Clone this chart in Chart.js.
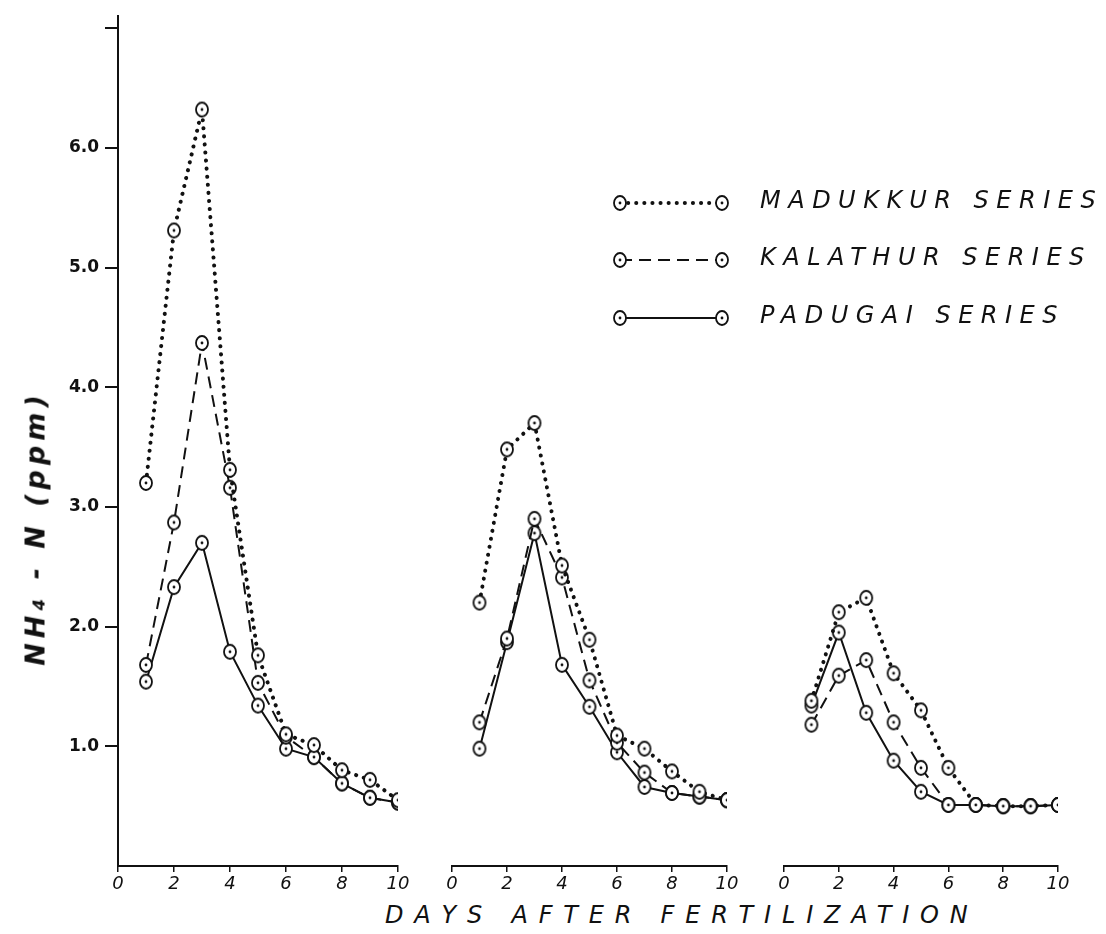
<!DOCTYPE html>
<html><head><meta charset="utf-8">
<script src="https://cdn.jsdelivr.net/npm/chart.js@4.4.0/dist/chart.umd.min.js"></script>
<style>
html,body{margin:0;padding:0;background:#fff;width:1106px;height:934px;overflow:hidden;position:relative;font-family:"DejaVu Sans",sans-serif;color:#111}
.pane{position:absolute;top:0;height:896px}
.pane canvas{display:block}
#ytitle{position:absolute;left:35px;top:528px;transform:translate(-50%,-50%) rotate(-90deg);white-space:nowrap;font:italic bold 27px "DejaVu Sans",sans-serif;letter-spacing:5px}
#xtitle{position:absolute;left:385px;top:901px;white-space:nowrap;font:italic 24px "DejaVu Sans",sans-serif;letter-spacing:10.8px}
.lg{position:absolute;left:600px;width:140px;height:30px}
.lgt{position:absolute;left:760px;white-space:nowrap;font:italic 24px "DejaVu Sans",sans-serif;letter-spacing:7.5px;line-height:30px}
</style></head><body>
<div class="pane" style="left:0;width:413px"><canvas id="c1"></canvas></div>
<div class="pane" style="left:432px;width:320px"><canvas id="c2"></canvas></div>
<div class="pane" style="left:764px;width:319px"><canvas id="c3"></canvas></div>
<div id="ytitle">NH₄ - N (ppm)</div>
<div id="xtitle">DAYS AFTER FERTILIZATION</div>
<div id="legend"></div>
<script>
// ---- data ----
const days = [1, 2, 3, 4, 5, 6, 7, 8, 9, 10];
const xTicks = [0, 2, 4, 6, 8, 10];
const yTicks = [0, 1, 2, 3, 4, 5, 6, 7];
const yTickLabels = ['', '1.0', '2.0', '3.0', '4.0', '5.0', '6.0', ''];
const seriesNames = ['MADUKKUR SERIES', 'KALATHUR SERIES', 'PADUGAI SERIES'];

// Panel 1
const madukkur1 = [3.20, 5.31, 6.32, 3.31, 1.76, 1.10, 1.01, 0.80, 0.72, 0.55];
const kalathur1 = [1.68, 2.87, 4.37, 3.16, 1.53, 1.08, 0.91, 0.69, 0.57, 0.53];
const padugai1  = [1.54, 2.33, 2.70, 1.79, 1.34, 0.98, 0.91, 0.69, 0.57, 0.53];
// Panel 2
const madukkur2 = [2.20, 3.48, 3.70, 2.51, 1.89, 1.09, 0.98, 0.79, 0.62, 0.55];
const kalathur2 = [1.20, 1.90, 2.90, 2.41, 1.55, 1.03, 0.78, 0.61, 0.58, 0.55];
const padugai2  = [0.98, 1.87, 2.78, 1.68, 1.33, 0.95, 0.66, 0.61, 0.58, 0.55];
// Panel 3
const madukkur3 = [1.38, 2.12, 2.24, 1.61, 1.30, 0.82, 0.51, 0.50, 0.50, 0.51];
const kalathur3 = [1.18, 1.59, 1.72, 1.20, 0.82, 0.51, 0.51, 0.50, 0.50, 0.51];
const padugai3  = [1.34, 1.95, 1.28, 0.88, 0.62, 0.51, 0.51, 0.50, 0.50, 0.51];

// ---- styling ----
const INK = '#111';
function marker() {
  const c = document.createElement('canvas');
  c.width = 18; c.height = 20;
  const g = c.getContext('2d');
  g.fillStyle = '#fff'; g.strokeStyle = INK; g.lineWidth = 1.8;
  g.beginPath(); g.ellipse(9, 10, 6, 7, 0, 0, Math.PI * 2); g.fill(); g.stroke();
  g.fillStyle = INK; g.beginPath(); g.arc(9, 10, 1.4, 0, Math.PI * 2); g.fill();
  return c;
}
const MK = marker();
const styles = [
  {borderDash: [0.1, 8], borderWidth: 4, borderCapStyle: 'round'},
  {borderDash: [12, 7], borderWidth: 2, borderCapStyle: 'butt'},
  {borderDash: [], borderWidth: 2, borderCapStyle: 'butt'}
];
function ds(vals, i) {
  return Object.assign({
    label: seriesNames[i],
    data: days.map((d, k) => ({x: d, y: vals[k]})),
    borderColor: INK, backgroundColor: INK,
    pointStyle: MK, pointRadius: 8, tension: 0
  }, styles[i]);
}

const xFont = {family: '"DejaVu Sans", sans-serif', size: 18, style: 'italic'};
const yFont = {family: '"DejaVu Sans", sans-serif', size: 17, weight: 'bold'};

function makeChart(id, sets, showY, pad) {
  return new Chart(document.getElementById(id), {
    type: 'line',
    data: {datasets: sets},
    options: {
      responsive: true, maintainAspectRatio: false, animation: false,
      layout: {padding: pad},
      plugins: {legend: {display: false}, tooltip: {enabled: false}},
      scales: {
        x: {
          type: 'linear', min: 0, max: 10,
          afterBuildTicks: s => { s.ticks = xTicks.map(v => ({value: v})); },
          afterFit: s => { s.height = 30; },
          ticks: {color: INK, font: xFont, padding: 2, maxRotation: 0, autoSkip: false,
                  callback: v => String(v)},
          grid: {display: true, drawOnChartArea: false, drawTicks: true, tickLength: 6, color: INK, lineWidth: 1.5},
          border: {display: true, color: INK, width: 2}
        },
        y: {
          type: 'linear', min: 0, max: 7.1, display: showY,
          afterBuildTicks: s => { s.ticks = yTicks.map(v => ({value: v})); },
          afterFit: s => { if (showY) s.width = 118; },
          ticks: {color: INK, font: yFont, padding: 6, autoSkip: false,
                  callback: (v) => yTickLabels[yTicks.indexOf(v)] ?? ''},
          grid: {display: true, drawOnChartArea: false, drawTicks: true, tickLength: 13,
                 color: c => (c.tick && c.tick.value === 0) ? 'rgba(0,0,0,0)' : INK, lineWidth: 2},
          border: {display: true, color: INK, width: 2}
        }
      }
    }
  });
}

makeChart('c1', [ds(madukkur1, 0), ds(kalathur1, 1), ds(padugai1, 2)], true, {top: 16, left: 0, right: 15, bottom: 0});
makeChart('c2', [ds(madukkur2, 0), ds(kalathur2, 1), ds(padugai2, 2)], false, {top: 16, left: 20, right: 25, bottom: 0});
makeChart('c3', [ds(madukkur3, 0), ds(kalathur3, 1), ds(padugai3, 2)], false, {top: 16, left: 20, right: 25, bottom: 0});

// ---- legend ----
const legend = document.getElementById('legend');
const rowsY = [185, 242, 300];
seriesNames.forEach((name, i) => {
  const st = styles[i];
  const box = document.createElement('canvas');
  box.className = 'lg'; box.width = 140; box.height = 30;
  box.style.top = (rowsY[i] + 3) + 'px';
  const g = box.getContext('2d');
  g.strokeStyle = INK; g.lineWidth = st.borderWidth; g.lineCap = st.borderCapStyle;
  g.setLineDash(st.borderDash);
  g.beginPath(); g.moveTo(20, 15); g.lineTo(122, 15); g.stroke();
  g.setLineDash([]);
  g.drawImage(MK, 20 - 9, 15 - 10);
  g.drawImage(MK, 122 - 9, 15 - 10);
  legend.appendChild(box);
  const t = document.createElement('div');
  t.className = 'lgt'; t.textContent = name;
  t.style.top = rowsY[i] + 'px';
  legend.appendChild(t);
});
</script>
</body></html>
